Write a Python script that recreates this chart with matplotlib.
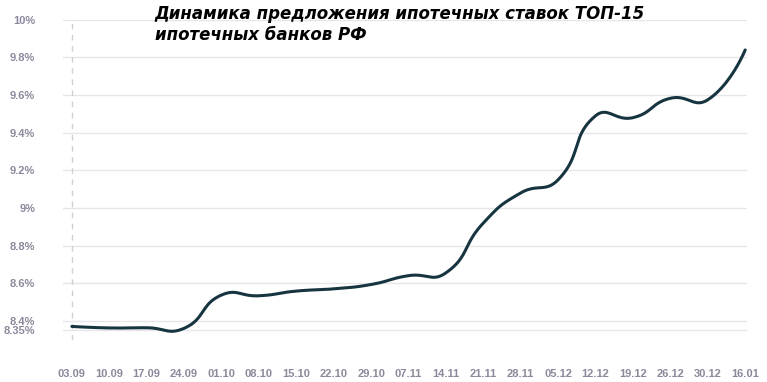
import numpy as np
import matplotlib.pyplot as plt
from matplotlib.ticker import FixedLocator, FuncFormatter

dates = ['03.09', '10.09', '17.09', '24.09', '01.10', '08.10', '15.10', '22.10',
         '29.10', '07.11', '14.11', '21.11', '28.11', '05.12', '12.12', '19.12',
         '26.12', '30.12', '16.01']
rates = [8.37, 8.362, 8.363, 8.36, 8.537, 8.533, 8.558, 8.57, 8.593, 8.64,
         8.655, 8.92, 9.08, 9.15, 9.49, 9.48, 9.583, 9.575, 9.84]
yticks = [8.35, 8.4, 8.6, 8.8, 9.0, 9.2, 9.4, 9.6, 9.8, 10.0]
title = 'Динамика предложения ипотечных ставок ТОП-15\nипотечных банков РФ'


def smooth(x, y, k=0.5, sx=37.5, sy=190.0, n=24):
    # bezier smoothing, control arms scaled by the distance to each neighbour
    p = np.column_stack([np.asarray(x, float) * sx, np.asarray(y, float) * sy])
    m = len(p)
    cin, cout = p.copy(), p.copy()
    for i in range(1, m - 1):
        v = p[i + 1] - p[i - 1]
        d0 = np.hypot(*(p[i] - p[i - 1]))
        d1 = np.hypot(*(p[i + 1] - p[i]))
        cin[i] = p[i] - v * k * d0 / (d0 + d1)
        cout[i] = p[i] + v * k * d1 / (d0 + d1)
    t = np.linspace(0, 1, n)[:, None]
    pts = []
    for i in range(m - 1):
        a, b, c, d = p[i], cout[i], cin[i + 1], p[i + 1]
        pts.append((1 - t) ** 3 * a + 3 * (1 - t) ** 2 * t * b
                   + 3 * (1 - t) * t ** 2 * c + t ** 3 * d)
    pts = np.vstack(pts)
    return pts[:, 0] / sx, pts[:, 1] / sy


fig = plt.figure(figsize=(7.67, 3.82), dpi=100)
ax = fig.add_axes([0.082, 0.111, 0.892, 0.837])

x = np.arange(len(dates))
lx, ly = smooth(x, rates)
ax.plot(lx, ly, color='#173540', lw=2.2, solid_capstyle='round', zorder=3)

ax.set_xlim(-0.24, 18.05)
ax.set_ylim(8.3, 10.0)

ax.yaxis.set_major_locator(FixedLocator(yticks))
ax.yaxis.set_major_formatter(FuncFormatter(lambda v, p: '{:g}%'.format(round(v, 2))))
ax.set_xticks(x)
ax.set_xticklabels(dates)

for v in yticks:
    ax.axhline(v, color='#e6e6ea', lw=1, zorder=1)
ax.axvline(0, color='#cfcfd4', lw=1, ls=(0, (4, 4)), zorder=1)

for s in ax.spines.values():
    s.set_visible(False)
ax.tick_params(length=0, colors='#8a8a9c', labelsize=8)
ax.tick_params(axis='y', pad=20)
ax.tick_params(axis='x', pad=21)
for lab in ax.get_xticklabels() + ax.get_yticklabels():
    lab.set_family('Liberation Sans')
    lab.set_fontweight('bold')

fig.text(0.202, 0.988, title, ha='left', va='top', fontsize=12,
         fontweight='bold', style='italic', family='DejaVu Sans',
         linespacing=1.25, color='black')

fig.savefig('out.png', dpi=100)
